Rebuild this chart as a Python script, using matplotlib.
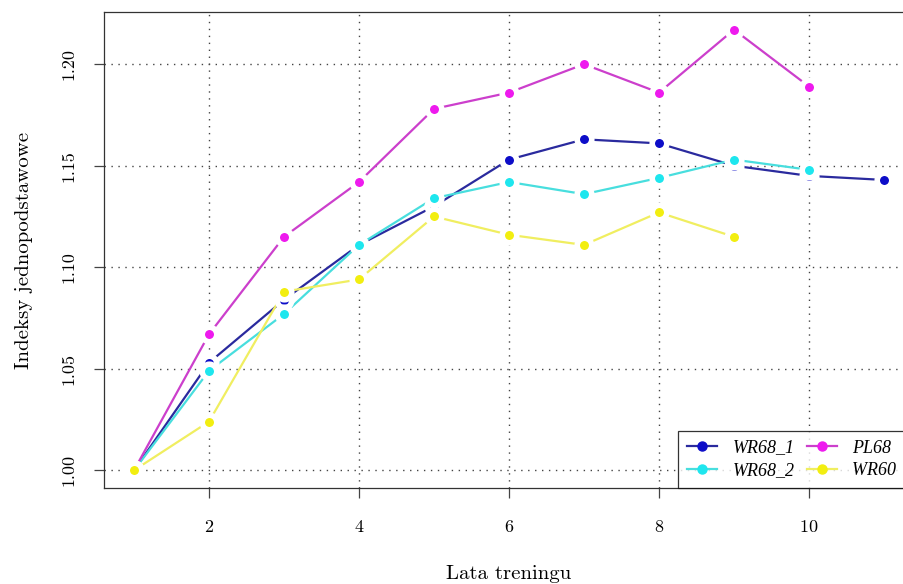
import numpy as np
import matplotlib
matplotlib.use("Agg")
import matplotlib.pyplot as plt
from matplotlib.ticker import FormatStrFormatter

plt.rcParams['font.family'] = 'cmr10'
plt.rcParams['mathtext.fontset'] = 'cm'
plt.rcParams['axes.formatter.use_mathtext'] = True

# lata treningu i indeksy jednopodstawowe dla kazdej grupy
years_wr68_1 = [1, 2, 3, 4, 5, 6, 7, 8, 9, 10, 11]
wr68_1 = [1.000, 1.053, 1.084, 1.111, 1.130, 1.153, 1.163, 1.161, 1.150, 1.145, 1.143]

years_wr68_2 = [1, 2, 3, 4, 5, 6, 7, 8, 9, 10]
wr68_2 = [1.000, 1.049, 1.077, 1.111, 1.134, 1.142, 1.136, 1.144, 1.153, 1.148]

years_pl68 = [1, 2, 3, 4, 5, 6, 7, 8, 9, 10]
pl68 = [1.000, 1.067, 1.115, 1.142, 1.178, 1.186, 1.200, 1.186, 1.217, 1.189]

years_wr60 = [1, 2, 3, 4, 5, 6, 7, 8, 9]
wr60 = [1.000, 1.024, 1.088, 1.094, 1.125, 1.116, 1.111, 1.127, 1.115]

x_ticks = [2, 4, 6, 8, 10]
y_ticks = [1.00, 1.05, 1.10, 1.15, 1.20]

series = [
    ('WR68_1', years_wr68_1, wr68_1, '#2a2a9e', '#0d0dc8'),
    ('WR68_2', years_wr68_2, wr68_2, '#48dede', '#1ee6ee'),
    ('PL68', years_pl68, pl68, '#cc3fcc', '#ee1aee'),
    ('WR60', years_wr60, wr60, '#f0ee60', '#f2ee10'),
]

fig = plt.figure(figsize=(9.04, 5.84), dpi=100)
# prawa krawedz ramki wychodzi poza obrazek
ax = fig.add_axes([104 / 904, 1 - 488 / 584, 810 / 904, 476 / 584])

for label, xs, ys, lc, mc in series:
    # typ "b": linia z przerwami wokol punktow (biala obwodka markera)
    ax.plot(xs, ys, color=lc, lw=1.6, zorder=2)
    ax.plot(xs, ys, ls='none', marker='o', ms=10.5, mfc=mc, mec='white',
            mew=4, zorder=3)

handles = [plt.Line2D([], [], color=lc, lw=1.6, marker='o', ms=6.5, mfc=mc, mec=mc)
           for _, _, _, lc, mc in series]
# druga kolumna ma te sama szerokosc co pierwsza (jak w legendzie R)
labels = ['WR68_1', 'WR68_2', 'PL68   ', 'WR60 ']
leg = ax.legend(handles, labels, ncol=2, loc='lower right', frameon=True,
                fancybox=False, edgecolor='black',
                prop={'family': 'Liberation Serif', 'style': 'italic', 'size': 13},
                handlelength=1.66, columnspacing=0.65, borderpad=0.5,
                labelspacing=0.3, handletextpad=0.88, borderaxespad=0)
leg.get_frame().set_linewidth(0.9)

ax.set_xlim(0.6, 11.4)
ax.set_ylim(0.9913, 1.2257)
ax.set_xticks(x_ticks)
ax.set_yticks(y_ticks)
ax.yaxis.set_major_formatter(FormatStrFormatter('%.2f'))
for lbl in ax.get_yticklabels():
    lbl.set_rotation(90)
    lbl.set_va('center')

ax.grid(True, color='#444444', ls=(0, (1, 4)), lw=1.0)
ax.set_axisbelow(True)
ax.tick_params(direction='out', length=7, width=0.9, color='#444444',
               labelsize=13, pad=15)
ax.tick_params(axis='y', pad=13)
for sp in ax.spines.values():
    sp.set_color('#333333')
    sp.set_linewidth(0.9)

ax.set_xlabel('Lata treningu', fontsize=15, labelpad=22)
ax.set_ylabel('Indeksy jednopodstawowe', fontsize=15, labelpad=20)

fig.savefig('out.png', dpi=100)
